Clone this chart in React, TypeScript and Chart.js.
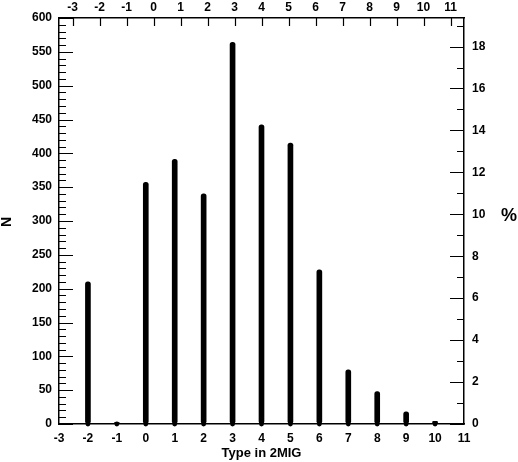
import React, { useEffect, useRef } from "react";
import { Chart, registerables } from "chart.js";

Chart.register(...registerables);

const types = [-2, -1, 0, 1, 2, 3, 4, 5, 6, 7, 8, 9, 10];
const counts = [210, 2, 357, 391, 340, 564, 442, 415, 228, 80, 48, 18, 4];
const xMin = -3;
const xMax = 11;
const nMax = 600;
const xTitle = "Type in 2MIG";
const yTitle = "N";
const y2Title = "%";

const total = counts.reduce((a, b) => a + b, 0);
const pctMax = (nMax * 100) / total;

const FONT = "'Liberation Sans', Arial, Helvetica, sans-serif";

const ticksPlugin = {
  id: "customTicks",
  afterDraw(chart: any) {
    const ctx = chart.ctx;
    const { left, right, top, bottom } = chart.chartArea;
    const sy = chart.scales.y;
    const sy2 = chart.scales.y2;
    const sx2 = chart.scales.x2;
    ctx.save();
    ctx.strokeStyle = "#000";
    ctx.lineWidth = 1.2;
    ctx.beginPath();
    for (let v = 0; v <= nMax; v += 10) {
      const py = Math.round(sy.getPixelForValue(v)) + 0.5;
      const len = v % 50 === 0 ? 14 : 7;
      ctx.moveTo(left, py);
      ctx.lineTo(left + len, py);
    }
    for (let v = 0; v <= Math.floor(pctMax); v += 1) {
      const py = Math.round(sy2.getPixelForValue(v)) + 0.5;
      const len = v % 2 === 0 ? 14 : 7;
      ctx.moveTo(right, py);
      ctx.lineTo(right - len, py);
    }
    for (let v = xMin; v <= xMax; v += 1) {
      const px = Math.round(sx2.getPixelForValue(v)) + 0.5;
      ctx.moveTo(px, top);
      ctx.lineTo(px, top + 8);
    }
    ctx.stroke();

    ctx.fillStyle = "#000";
    ctx.textAlign = "center";
    ctx.textBaseline = "middle";
    ctx.font = `bold 13px ${FONT}`;
    ctx.fillText(xTitle, (left + right) / 2, 453);

    ctx.save();
    ctx.translate(7, (top + bottom) / 2 + 1);
    ctx.rotate(-Math.PI / 2);
    ctx.font = `bold 14px ${FONT}`;
    ctx.fillText(yTitle, 0, 0);
    ctx.restore();

    ctx.font = `bold 18px ${FONT}`;
    ctx.fillText(y2Title, 509, 216);
    ctx.restore();
  },
};

export default function App() {
  const ref = useRef<HTMLCanvasElement | null>(null);

  useEffect(() => {
    document.body.style.margin = "0";
    const canvas = ref.current;
    if (!canvas) return;
    const tickFont = { family: FONT, size: 12, weight: "bold" as const };
    const chart = new Chart(canvas, {
      type: "bar",
      data: {
        datasets: [
          {
            type: "bar",
            data: types.map((t, i) => ({ x: t, y: counts[i] })),
            backgroundColor: "#000",
            borderWidth: 0,
            barThickness: 5,
            borderRadius: 2.5,
            borderSkipped: false,
            xAxisID: "x",
            yAxisID: "y",
          } as any,
          {
            type: "scatter",
            data: types.map((t) => ({ x: t, y: 0 })),
            backgroundColor: "#000",
            borderWidth: 0,
            pointRadius: 2.4,
            clip: false,
            xAxisID: "x",
            yAxisID: "y",
          } as any,
        ],
      },
      options: {
        animation: false,
        responsive: false,
        devicePixelRatio: 1,
        layout: { padding: 0 },
        plugins: { legend: { display: false }, tooltip: { enabled: false } },
        scales: {
          x: {
            type: "linear",
            position: "bottom",
            min: xMin,
            max: xMax,
            offset: false,
            ticks: { stepSize: 1, color: "#000", font: tickFont, padding: 7, autoSkip: false, maxRotation: 0 },
            grid: { display: true, drawOnChartArea: false, drawTicks: false },
            border: { display: true, color: "#000", width: 1.5 },
            afterFit: (s: any) => {
              s.height = 38;
            },
          },
          x2: {
            type: "linear",
            position: "top",
            min: xMin,
            max: xMax,
            ticks: { stepSize: 1, color: "#000", font: tickFont, padding: 3, autoSkip: false, maxRotation: 0 },
            grid: { display: true, drawOnChartArea: false, drawTicks: false },
            border: { display: true, color: "#000", width: 1.5 },
            afterFit: (s: any) => {
              s.height = 18;
            },
          },
          y: {
            type: "linear",
            position: "left",
            min: 0,
            max: nMax,
            ticks: { stepSize: 50, color: "#000", font: tickFont, padding: 7 },
            grid: { display: true, drawOnChartArea: false, drawTicks: false },
            border: { display: true, color: "#000", width: 1.5 },
            afterFit: (s: any) => {
              s.width = 59;
            },
          },
          y2: {
            type: "linear",
            position: "right",
            min: 0,
            max: pctMax,
            ticks: { stepSize: 2, color: "#000", font: tickFont, padding: 8, includeBounds: false },
            grid: { display: true, drawOnChartArea: false, drawTicks: false },
            border: { display: true, color: "#000", width: 1.5 },
            afterFit: (s: any) => {
              s.width = 54;
            },
          },
        },
      },
      plugins: [ticksPlugin],
    });
    return () => chart.destroy();
  }, []);

  return (
    <div style={{ width: 518, height: 462, background: "#fff" }}>
      <canvas ref={ref} width={518} height={462} style={{ display: "block", width: 518, height: 462 }} />
    </div>
  );
}
